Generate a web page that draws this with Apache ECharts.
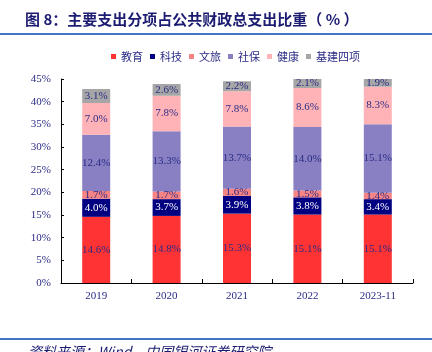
<!DOCTYPE html>
<html>
<head>
<meta charset="utf-8">
<style>
  html, body { margin: 0; padding: 0; background: #fff; }
  #chart { width: 432px; height: 352px; }
</style>
<script src="https://cdn.jsdelivr.net/npm/echarts@6/dist/echarts.min.js"></script>
</head>
<body>
<div id="chart"></div>
<script>
// 类目与数据（%）
const years = ['2019', '2020', '2021', '2022', '2023-11']
const jiaoyu = [14.6, 14.8, 15.3, 15.1, 15.1]
const keji = [4.0, 3.7, 3.9, 3.8, 3.4]
const wenlv = [1.7, 1.7, 1.6, 1.5, 1.4]
const shebao = [12.4, 13.3, 13.7, 14.0, 15.1]
const jiankang = [7.0, 7.8, 7.8, 8.6, 8.3]
const jijian = [3.1, 2.6, 2.2, 2.1, 1.9]

const serifFont = '"Liberation Serif", "Times New Roman", serif'
const cjkFont = '"Noto Sans CJK SC", sans-serif'
const labelColor = '#2b2b86'

const chart = echarts.init(document.getElementById('chart'))

function makeSeries(name, data, color, textColor) {
  return {
    name: name,
    type: 'bar',
    stack: 'total',
    barWidth: 28,
    itemStyle: { color: color },
    label: {
      show: true,
      position: 'inside',
      color: textColor || labelColor,
      fontFamily: serifFont,
      fontSize: 11,
      formatter: p => p.value.toFixed(1) + '%'
    },
    data: data
  }
}

chart.setOption({
  animation: false,
  graphic: [
    {
      type: 'text',
      left: 25,
      top: 12,
      style: {
        text: '图 8：主要支出分项占公共财政总支出比重（ % ）',
        font: 'bold 15px "Noto Sans CJK SC", sans-serif',
        fill: '#1c1c72'
      }
    },
    {
      type: 'rect',
      shape: { x: 0, y: 33, width: 432, height: 2 },
      style: { fill: '#4472c4' }
    },
    {
      type: 'rect',
      shape: { x: 0, y: 338, width: 432, height: 2 },
      style: { fill: '#4472c4' }
    },
    {
      type: 'text',
      left: 28,
      top: 345,
      style: {
        text: '资料来源：Wind，中国银河证券研究院',
        font: 'italic 14px "Noto Sans CJK SC", sans-serif',
        fill: '#1c1c72'
      }
    }
  ],
  legend: {
    top: 46,
    left: 106,
    itemWidth: 5,
    itemHeight: 5,
    itemGap: 7,
    icon: 'rect',
    textStyle: { fontFamily: cjkFont, fontSize: 11, color: '#2b2b86' },
    data: ['教育', '科技', '文旅', '社保', '健康', '基建四项']
  },
  grid: { left: 61, right: 19, top: 79, bottom: 69 },
  xAxis: {
    type: 'category',
    data: years,
    axisLine: { lineStyle: { color: '#000', width: 1 } },
    axisTick: { show: true, inside: true, length: 4, lineStyle: { color: '#000' } },
    axisLabel: { color: labelColor, fontFamily: serifFont, fontSize: 11, margin: 8 }
  },
  yAxis: {
    type: 'value',
    min: 0,
    max: 45,
    interval: 5,
    axisLine: { show: true, lineStyle: { color: '#000', width: 1 } },
    axisTick: { show: true, inside: true, length: 3, lineStyle: { color: '#000' } },
    splitLine: { show: false },
    axisLabel: {
      color: labelColor,
      fontFamily: serifFont,
      fontSize: 11,
      margin: 10,
      formatter: '{value}%'
    }
  },
  series: [
    makeSeries('教育', jiaoyu, '#ff3333'),
    makeSeries('科技', keji, '#000080', '#ffffff'),
    makeSeries('文旅', wenlv, '#f78484'),
    makeSeries('社保', shebao, '#8880c2'),
    makeSeries('健康', jiankang, '#ffb3b6'),
    makeSeries('基建四项', jijian, '#a6a6a6')
  ]
})
</script>
</body>
</html>
